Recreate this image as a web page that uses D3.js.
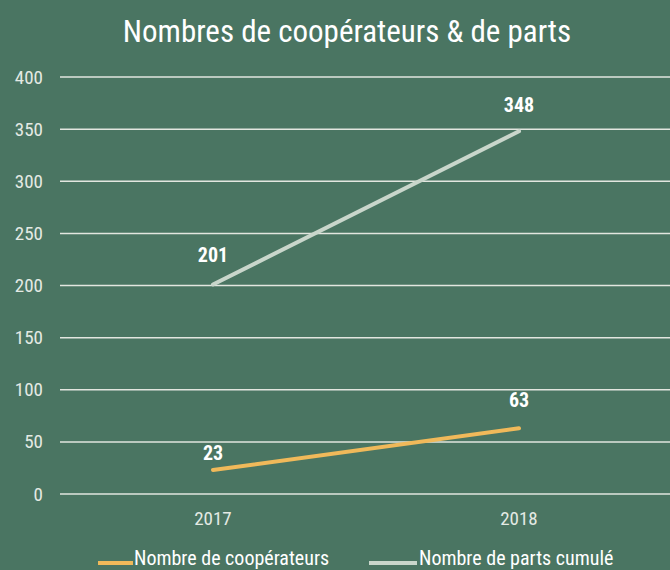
<!DOCTYPE html>
<html>
<head>
<meta charset="utf-8">
<script src="https://cdn.jsdelivr.net/npm/d3@7"></script>
<style>
  html, body { margin: 0; padding: 0; background: #4a7562; overflow: hidden; }
  text { font-family: "Roboto Condensed", "Liberation Sans Narrow", Roboto, sans-serif; }
</style>
</head>
<body>
<div id="chart"></div>
<script>
const years = ["2017", "2018"];
const cooperateurs = [23, 63];
const partsCumule = [201, 348];
const yTicks = [0, 50, 100, 150, 200, 250, 300, 350, 400];
const seriesNames = ["Nombre de coopérateurs", "Nombre de parts cumulé"];
const seriesColors = ["#f0b95a", "#c9d6cb"];
// distance between point and label baseline, per series / point
const labelOffsets = [[10, 21], [22, 19]];

const width = 670, height = 570;
const margin = { top: 77, right: -2, bottom: 76, left: 60 };
const font = "'Roboto Condensed', 'Liberation Sans Narrow', Roboto, sans-serif";

const svg = d3.select("#chart")
    .append("svg")
    .attr("width", width)
    .attr("height", height);

// Title
svg.append("text")
    .attr("x", 347)
    .attr("y", 42)
    .attr("text-anchor", "middle")
    .attr("fill", "#ffffff")
    .style("font-size", "31px")
    .text("Nombres de coopérateurs & de parts");

const x = d3.scaleBand()
    .domain(years)
    .range([margin.left, width - margin.right]);

const y = d3.scaleLinear()
    .domain([0, 400])
    .range([height - margin.bottom, margin.top]);

// Gridlines
svg.append("g")
    .selectAll("line")
    .data(yTicks)
    .join("line")
    .attr("x1", margin.left)
    .attr("x2", width)
    .attr("y1", d => y(d))
    .attr("y2", d => y(d))
    .attr("stroke", "#e2e6df")
    .attr("stroke-width", 1.5);

// Y axis labels
const yAxis = svg.append("g")
    .attr("transform", `translate(${margin.left - 17}, 0)`)
    .call(d3.axisLeft(y).tickValues(yTicks).tickSize(0).tickPadding(0));
yAxis.select(".domain").remove();
yAxis.selectAll("text")
    .attr("fill", "#e4eae4")
    .style("font-size", "19px")
    .style("font-family", font);

// X axis labels
const xAxis = svg.append("g")
    .attr("transform", `translate(0, ${y(0) + 17})`)
    .call(d3.axisBottom(x).tickSize(0).tickPadding(0));
xAxis.select(".domain").remove();
xAxis.selectAll("text")
    .attr("fill", "#e4eae4")
    .style("font-size", "19px")
    .style("font-family", font);

const series = [cooperateurs, partsCumule];
const line = d3.line()
    .x((d, i) => x(years[i]) + x.bandwidth() / 2)
    .y(d => y(d));

series.forEach((vals, s) => {
    svg.append("path")
        .datum(vals)
        .attr("fill", "none")
        .attr("stroke", seriesColors[s])
        .attr("stroke-width", 4)
        .attr("stroke-linecap", "round")
        .attr("d", line);

    svg.append("g")
        .selectAll("text")
        .data(vals)
        .join("text")
        .attr("x", (d, i) => x(years[i]) + x.bandwidth() / 2)
        .attr("y", (d, i) => y(d) - labelOffsets[s][i])
        .attr("text-anchor", "middle")
        .attr("fill", "#ffffff")
        .style("font-size", "20px")
        .style("font-weight", "bold")
        .text(d => d);
});

// Legend
const legendItems = [
    { x0: 98, x1: 133, tx: 134 },
    { x0: 369, x1: 417, tx: 419 }
];
legendItems.forEach((it, s) => {
    svg.append("line")
        .attr("x1", it.x0)
        .attr("x2", it.x1)
        .attr("y1", 563)
        .attr("y2", 563)
        .attr("stroke", seriesColors[s])
        .attr("stroke-width", 4);
    svg.append("text")
        .attr("x", it.tx)
        .attr("y", 565)
        .attr("fill", "#ffffff")
        .style("font-size", "20px")
        .text(seriesNames[s]);
});
</script>
</body>
</html>
